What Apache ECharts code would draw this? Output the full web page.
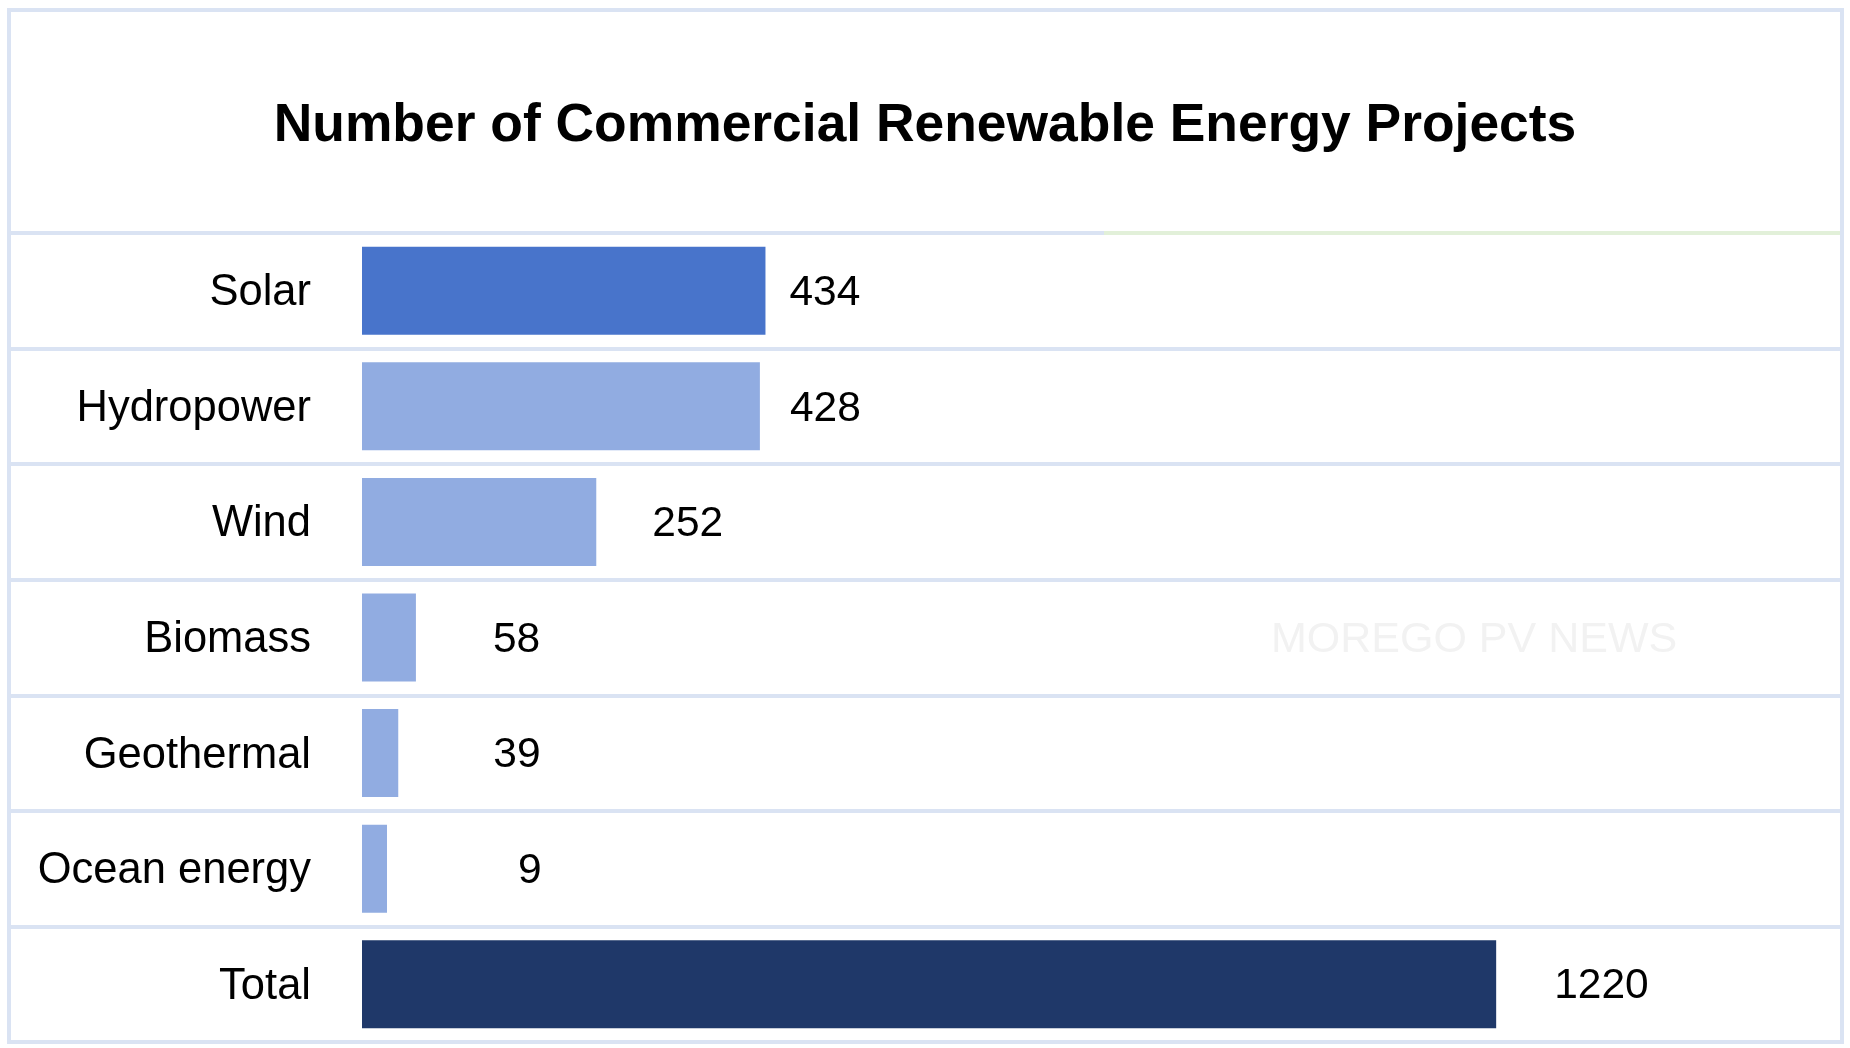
<!DOCTYPE html>
<html><head><meta charset="utf-8">
<script src="https://cdn.jsdelivr.net/npm/echarts@6/dist/echarts.min.js"></script>
<style>html,body{margin:0;padding:0;background:#fff;overflow:hidden}#c{width:1850px;height:1048px}</style>
</head><body><div id="c"></div>
<script>
// ---- data ----
const categories = ['Solar', 'Hydropower', 'Wind', 'Biomass', 'Geothermal', 'Ocean energy', 'Total'];
const projectCounts = [434, 428, 252, 58, 39, 9, 1220];
const titleText = 'Number of Commercial Renewable Energy Projects';
const watermarkText = 'MOREGO PV NEWS';

// ---- styles ----
const FONT = '"Liberation Sans", Arial, sans-serif';
const barColors = ['#4874CB', '#91ACE1', '#91ACE1', '#91ACE1', '#91ACE1', '#91ACE1', '#1F3869'];
const labelGaps = [24, 30, 56, 77, 95, 131, 58];
const lineColor = '#DAE3F3';

const chart = echarts.init(document.getElementById('c'), null, { renderer: 'canvas' });

chart.setOption({
  backgroundColor: '#ffffff',
  animation: false,
  textStyle: { fontFamily: FONT },
  title: {
    text: titleText,
    left: 'center',
    top: 100,
    padding: 0,
    textStyle: { fontFamily: FONT, fontWeight: 'bold', fontSize: 53.4, color: '#000000' }
  },
  grid: [
    { left: 9, right: 8, top: 233, bottom: 6, containLabel: false, outerBoundsMode: 'none' },
    { left: 362, right: 8, top: 233, bottom: 6, containLabel: false, outerBoundsMode: 'none' }
  ],
  xAxis: [
    { gridIndex: 0, type: 'value', min: 0, max: 1, show: false },
    { gridIndex: 1, type: 'value', min: 0, max: 1592, show: false }
  ],
  yAxis: [
    {
      gridIndex: 0,
      type: 'category',
      inverse: true,
      data: categories,
      axisLine: { show: false },
      axisTick: { show: false },
      axisLabel: { show: false },
      splitLine: { show: true, lineStyle: { color: lineColor, width: 4 } }
    },
    {
      gridIndex: 1,
      type: 'category',
      inverse: true,
      data: categories,
      axisLine: { show: false },
      axisTick: { show: false },
      axisLabel: {
        show: true, margin: 51, fontSize: 43.5, color: '#000000', fontFamily: FONT,
        verticalAlign: 'top', lineHeight: 5
      },
      splitLine: { show: false }
    }
  ],
  series: [{
    type: 'bar',
    xAxisIndex: 1,
    yAxisIndex: 1,
    barWidth: 88,
    barMinHeight: 25,
    data: projectCounts.map((v, i) => ({
      value: v,
      itemStyle: { color: barColors[i] },
      label: { distance: labelGaps[i] }
    })),
    label: {
      show: true,
      position: 'right',
      offset: [0, 2.5],
      fontSize: 42.5,
      color: '#000000',
      fontFamily: FONT
    }
  }],
  graphic: [
    {
      type: 'line', z: 50,
      shape: { x1: 1104, y1: 233, x2: 1840, y2: 233 },
      style: { stroke: '#E2F0D9', lineWidth: 4 }
    },
    {
      type: 'rect', z: 60,
      shape: { x: 9, y: 10, width: 1833, height: 1032 },
      style: { fill: 'none', stroke: lineColor, lineWidth: 4 }
    },
    {
      type: 'text', z: 5,
      x: 1271, y: 640,
      style: {
        text: watermarkText, fill: '#F2F2F2',
        font: '43px ' + FONT, textVerticalAlign: 'middle', textAlign: 'left'
      }
    }
  ]
});
</script>
</body></html>
